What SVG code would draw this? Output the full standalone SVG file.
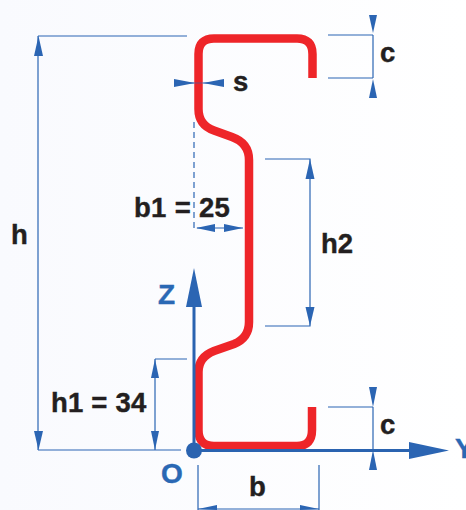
<svg xmlns="http://www.w3.org/2000/svg" width="466" height="510" viewBox="0 0 466 510">
<defs>
<linearGradient id="bg" x1="0" y1="0" x2="1" y2="0"><stop offset="0" stop-color="#f9fafe"/><stop offset="1" stop-color="#ffffff"/></linearGradient>
</defs>
<style>
.d{fill:none;stroke:#2b65b3;stroke-width:1.2}
.a{fill:#2b65b3;stroke:none}
.ax{fill:none;stroke:#2a63b0;stroke-width:3}
.t{font-family:"Liberation Sans",Arial,sans-serif;font-weight:700;font-size:27.500px;fill:#231f20;stroke:#231f20;stroke-width:0.400}
.b{font-family:"Liberation Sans",Arial,sans-serif;font-weight:700;font-size:28px;fill:#2a68b4;stroke:#2a68b4;stroke-width:0.400}
</style>
<rect width="466" height="510" fill="url(#bg)"/>
<g id="connectors">
<path class="d" d="M38 36H187M328 35H373M328 78H373M373 35V78M174 83H194M203 83H224M197 228H243M265 159H310V326H265M38 36V450M38 450H181M155 359H187M155 359V450M328 407H373M373 407V450M198 465V510M319 465V510M198 509H319"/>
<path class="d" d="M194 122V231" stroke-dasharray="6 4"/>
<g class="a">
<polygon points="373,33 369,15 377,15"/>
<polygon points="373,79 369,98 377,98"/>
<polygon points="174,79 174,87 195,83"/>
<polygon points="224,79 224,87 203,83"/>
<polygon points="196,228 215,224 215,232"/>
<polygon points="243,228 224,224 224,232"/>
<polygon points="310,159 305.500,179 314.500,179"/>
<polygon points="310,326 305.500,307 314.500,307"/>
<polygon points="38.500,36 34,56 43,56"/>
<polygon points="38.500,450 34,431 43,431"/>
<polygon points="155,359 151,378 159,378"/>
<polygon points="155,450 151,431 159,431"/>
<polygon points="373,407 369,387 377,387"/>
<polygon points="373,450 369,470 377,470"/>
<polygon points="198,509 217,505 217,510"/>
<polygon points="319,509 300,505 300,510"/>
</g>
</g>
<g id="profile"><path d="M312.500 78V54Q312.500 38.500 297 38.500H214Q198.500 38.500 198.500 54V109Q198.500 125 214 130.500L232 137Q249 143 249 160V322Q249 338 234 344L214 351Q198.500 357 198.500 372V430Q198.500 446 214 446H297Q312 446 312 430V407" fill="none" stroke="#ee2529" stroke-width="8.500"/></g>
<path d="M194 83H203" stroke="#2b65b3" stroke-width="1" opacity="0.6"/>
<g id="axis-z"><path class="ax" d="M194 450V300"/><polygon class="a" points="194,268 186,307 202,307"/></g>
<g id="axis-y"><path class="ax" d="M194 450.500H415"/><polygon class="a" points="449,450.500 409,442 409,459"/></g>
<g id="origin"><circle cx="194" cy="450.500" r="8" fill="#2a63b0"/></g>
<g id="labels">
<text class="t" x="380" y="62">c</text>
<text class="t" x="233" y="91">s</text>
<text class="t" x="134" y="217" letter-spacing="0.300">b1 = 25</text>
<text class="t" x="11" y="244">h</text>
<text class="t" x="321" y="253">h2</text>
<text class="t" x="51" y="412" letter-spacing="0.200">h1 = 34</text>
<text class="t" x="380" y="434">c</text>
<text class="t" x="249" y="496">b</text>
<text class="b" x="158" y="304">Z</text>
<text class="b" x="161" y="483">O</text>
<text class="b" x="455" y="458">Y</text>
</g>
</svg>
